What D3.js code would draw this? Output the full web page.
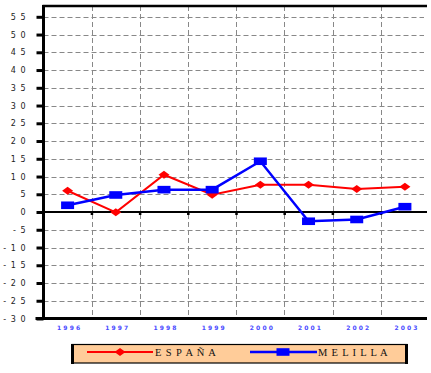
<!DOCTYPE html>
<html><head><meta charset="utf-8">
<script src="https://cdn.jsdelivr.net/npm/d3@7"></script>
<style>html,body{margin:0;padding:0;background:#fff;}svg{display:block;}</style>
</head><body>
<script>
const years = ["1996","1997","1998","1999","2000","2001","2002","2003"];
const espana = [6.0, -0.1, 10.5, 4.9, 7.7, 7.7, 6.5, 7.1];
const melilla = [1.9, 4.8, 6.3, 6.3, 14.3, -2.6, -2.1, 1.5];
const yTicks = [55,50,45,40,35,30,25,20,15,10,5,0,-5,-10,-15,-20,-25,-30];
const seriesNames = ["E S P A Ñ A", "M E L I L L A"];

const W = 431, H = 373;
const svg = d3.select("body").append("svg").attr("width", W).attr("height", H);

const left = 43.5, right = 429, clipRight = 427;
const x = d3.scaleBand().domain(years).range([left, right]);
const y = d3.scaleLinear().domain([-30, 55]).range([318.5, 16.8]);
const plotTop = 6;

// gridlines
const g = svg.append("g");
yTicks.filter(v => v !== 0 && v !== -30).forEach(v => {
  g.append("line").attr("x1", left).attr("x2", clipRight - 3)
    .attr("y1", Math.round(y(v)) + 0.5).attr("y2", Math.round(y(v)) + 0.5)
    .attr("stroke", "#888").attr("stroke-width", 1).attr("stroke-dasharray", "5,3");
});
years.slice(1).forEach(d => {
  const xx = Math.round(x(d)) + 0.5;
  g.append("line").attr("x1", xx).attr("x2", xx).attr("y1", plotTop).attr("y2", y(-30))
    .attr("stroke", "#888").attr("stroke-width", 1).attr("stroke-dasharray", "5,3");
});

// top border
svg.append("line").attr("x1", left - 1).attr("x2", clipRight).attr("y1", plotTop).attr("y2", plotTop)
  .attr("stroke", "#000").attr("stroke-width", 2.5);

// y axis
const yAxis = d3.axisLeft(y).tickValues(yTicks).tickSize(7).tickPadding(10)
  .tickFormat(d => String(d).split("").join(" "));
const ya = svg.append("g").attr("transform", `translate(${left},0)`).call(yAxis);
ya.select(".domain").attr("stroke", "#000").attr("stroke-width", 3).attr("d", `M0,${plotTop - 1}V${y(-30) + 1.5}`);
ya.selectAll(".tick line").attr("stroke", "#000").attr("stroke-width", 3);
ya.selectAll(".tick text").attr("font-family", "DejaVu Sans").attr("font-size", 8)
  .attr("letter-spacing", 1).attr("fill", "#222").style("white-space", "pre");

// bottom axis line
svg.append("line").attr("x1", left - 8).attr("x2", clipRight).attr("y1", y(-30)).attr("y2", y(-30))
  .attr("stroke", "#000").attr("stroke-width", 3);

// zero line with tick marks
const zeroY = y(0);
svg.append("line").attr("x1", left).attr("x2", clipRight).attr("y1", zeroY).attr("y2", zeroY)
  .attr("stroke", "#000").attr("stroke-width", 1.8);
years.slice(1).forEach(d => {
  svg.append("rect").attr("x", x(d) - 1).attr("y", zeroY).attr("width", 2.5).attr("height", 3).attr("fill", "#000");
});

// x labels
svg.append("g").selectAll("text").data(years).join("text")
  .attr("x", d => x(d) + x.bandwidth() / 2 + 1).attr("y", 330)
  .attr("text-anchor", "middle").attr("font-family", "DejaVu Sans").attr("font-size", 6)
  .attr("font-weight", "bold").attr("fill", "#4a4aff").style("white-space", "pre")
  .text(d => d.split("").join(" "));

// lines
const cx = d => x(d) + x.bandwidth() / 2;
const line = d3.line().x((v, i) => cx(years[i])).y(v => y(v));
svg.append("path").datum(espana).attr("d", line).attr("fill", "none").attr("stroke", "#ff0000").attr("stroke-width", 2);
svg.append("path").datum(melilla).attr("d", line).attr("fill", "none").attr("stroke", "#0000ff").attr("stroke-width", 2.5);

function diamond(sel, px, py) {
  sel.append("path").attr("d", `M${px - 5.5},${py}L${px},${py - 4}L${px + 5.5},${py}L${px},${py + 4}Z`).attr("fill", "#ff0000");
}
function square(sel, px, py) {
  sel.append("rect").attr("x", px - 6.5).attr("y", py - 3.8).attr("width", 13).attr("height", 7.6).attr("fill", "#0000ff");
}
espana.forEach((v, i) => diamond(svg, cx(years[i]), y(v)));
melilla.forEach((v, i) => square(svg, cx(years[i]), y(v)));

// legend
const lg = svg.append("g");
lg.append("rect").attr("x", 72).attr("y", 344.5).attr("width", 335).attr("height", 18.5)
  .attr("fill", "#FFCC99").attr("stroke", "#000").attr("stroke-width", 1.2);
lg.append("line").attr("x1", 72.5).attr("x2", 72.5).attr("y1", 344).attr("y2", 364).attr("stroke", "#000").attr("stroke-width", 3);
lg.append("line").attr("x1", 406.5).attr("x2", 406.5).attr("y1", 344).attr("y2", 364).attr("stroke", "#000").attr("stroke-width", 3);
const ly = 352;
lg.append("line").attr("x1", 87).attr("x2", 153).attr("y1", ly).attr("y2", ly).attr("stroke", "#ff0000").attr("stroke-width", 2);
diamond(lg, 120, ly);
lg.append("text").attr("x", 155).attr("y", ly + 3.8).attr("font-family", "Liberation Serif").attr("font-size", 10.5)
  .attr("letter-spacing", 0.9).attr("fill", "#111").style("white-space", "pre").text(seriesNames[0]);
lg.append("line").attr("x1", 250).attr("x2", 317).attr("y1", ly).attr("y2", ly).attr("stroke", "#0000ff").attr("stroke-width", 2.5);
square(lg, 283, ly);
lg.append("text").attr("x", 318).attr("y", ly + 3.8).attr("font-family", "Liberation Serif").attr("font-size", 10.5)
  .attr("letter-spacing", 0.8).attr("fill", "#111").style("white-space", "pre").text(seriesNames[1]);
</script>
</body></html>
